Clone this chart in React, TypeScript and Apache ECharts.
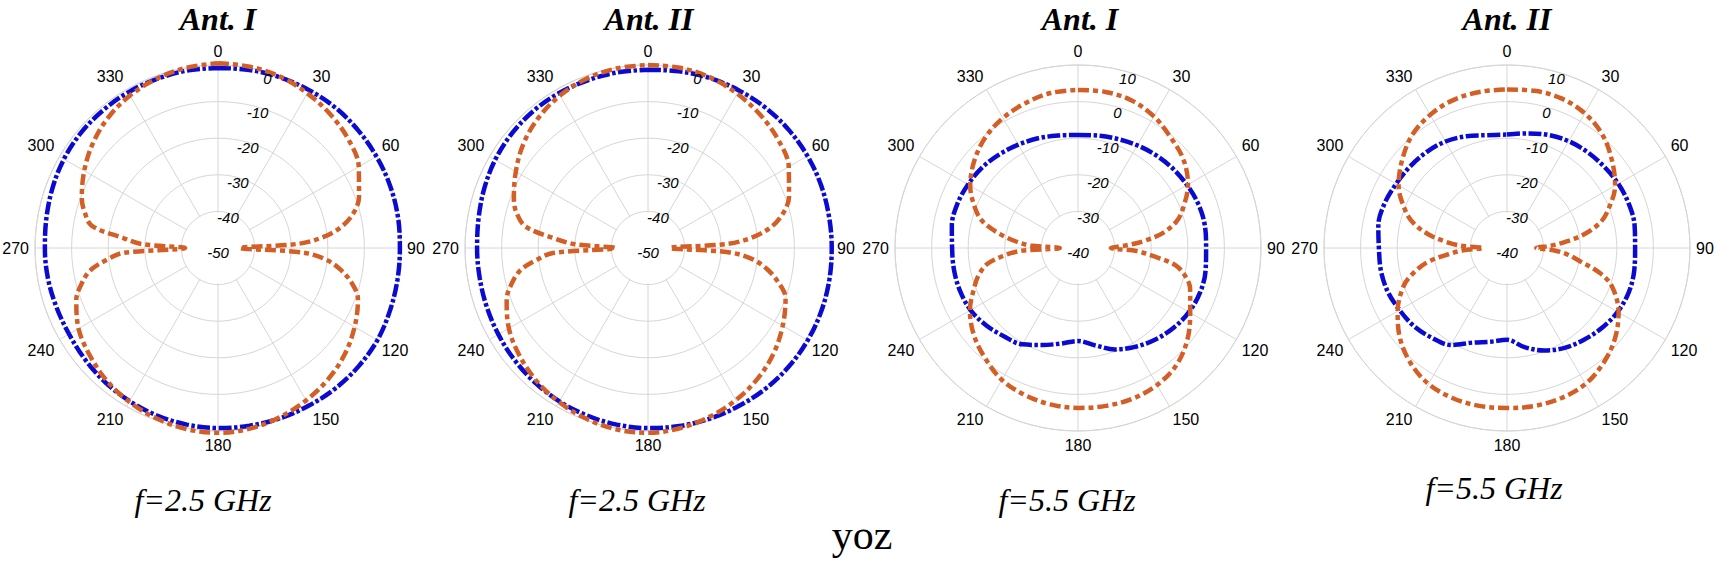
import React, { useEffect, useRef } from "react";
import * as echarts from "echarts";

// ---------------- data ----------------
const ANGLES_BLUE = [0, 10, 20, 30, 40, 50, 60, 70, 80, 90, 100, 110, 120, 130, 140, 150, 160, 170, 180, 190, 200, 210, 220, 230, 240, 250, 260, 270, 280, 290, 300, 310, 320, 330, 340, 350, 360];
const ANGLES_ORANGE = [0, 10, 20, 30, 40, 50, 60, 70, 75, 80, 84, 87, 90, 93, 96, 100, 105, 110, 120, 130, 140, 150, 160, 170, 180, 190, 200, 210, 220, 230, 240, 250, 255, 260, 264, 267, 270, 273, 276, 280, 285, 290, 300, 310, 320, 330, 340, 350, 360];

// Ant. I, f = 2.5 GHz
const P1_BLUE = [-0.8, -0.6, -0.4, -0.2, 0, 0, 0, 0, -0.1, -0.3, -0.2, 0, 0.3, 0.2, 0, -0.3, -0.5, -0.7, -0.8, -1.0, -1.3, -1.7, -2.1, -2.6, -3.0, -3.0, -2.8, -2.7, -2.4, -1.9, -1.4, -1.1, -1.0, -0.9, -0.9, -0.8, -0.8];
const P1_ORANGE = [0.5, 0.3, -0.2, -1.2, -2.3, -3.6, -5.6, -9.0, -11.4, -15.5, -21, -28, -44, -27, -20.5, -16, -12, -9.3, -6.9, -4.8, -3.2, -1.9, -0.8, 0.1, 0.5, 0.2, -0.5, -1.5, -2.7, -4.3, -6.0, -8.8, -11.3, -14.5, -19.5, -24, -41, -29, -24, -15, -12.3, -10.4, -7.8, -5.4, -3.4, -1.9, -0.8, 0, 0.5];

// Ant. II, f = 2.5 GHz
const P2_BLUE = [-1.3, -1.0, -0.6, -0.3, 0, 0.2, 0.3, 0.3, 0.2, 0.2, 0.3, 0.4, 0.4, 0.3, 0.1, -0.2, -0.4, -0.6, -0.8, -1.0, -1.3, -1.6, -2.0, -2.4, -2.8, -3.1, -3.3, -3.3, -3.0, -2.4, -1.8, -1.4, -1.2, -1.2, -1.3, -1.3, -1.3];
const P2_ORANGE = [0.0, 0.0, -0.4, -1.3, -2.4, -3.7, -5.6, -9.0, -11.5, -15.5, -21, -28, -44, -28, -21.5, -17, -13, -10, -7.5, -5.2, -3.4, -2.0, -0.9, 0.0, 0.5, 0.3, -0.4, -1.4, -2.6, -4.2, -6.1, -8.9, -11.3, -14.5, -19.5, -24, -41, -30, -24, -16, -12.8, -11, -8.3, -5.6, -3.5, -1.9, -0.8, -0.2, 0.0];

// Ant. I, f = 5.5 GHz
const P3_BLUE = [-9.1, -8.8, -8.3, -7.6, -6.9, -6.2, -5.6, -5.0, -4.8, -5.0, -4.6, -4.5, -5.0, -6.0, -7.3, -8.8, -10.5, -13.0, -14.6, -13.5, -11.8, -9.6, -8.5, -7.2, -6.1, -5.7, -5.6, -5.6, -5.0, -4.9, -5.3, -5.8, -6.6, -7.4, -8.1, -8.8, -9.1];
const P3_ORANGE = [3.2, 3.3, 2.9, 1.5, -0.6, -2.4, -5.3, -9.6, -12.2, -16.5, -22, -27, -31, -24, -19.5, -13, -9.5, -7.4, -4.6, -1.0, 1.8, 3.2, 3.8, 3.8, 3.7, 3.4, 2.7, 1.6, -0.6, -2.9, -5.9, -10, -12, -14.8, -19.5, -24, -35, -27, -23, -18.5, -13.4, -10.4, -6.0, -3.0, -0.6, 1.0, 2.1, 3.0, 3.2];

// Ant. II, f = 5.5 GHz
const P4_BLUE = [-9.0, -8.2, -7.1, -6.3, -5.8, -5.4, -4.9, -4.6, -4.6, -5.0, -4.7, -4.6, -5.1, -6.1, -7.3, -8.5, -10.2, -12.5, -14.9, -14.0, -12.5, -9.4, -8.0, -6.8, -6.1, -5.3, -5.0, -5.0, -4.3, -4.4, -5.0, -5.4, -5.8, -6.4, -7.5, -8.7, -9.0];
const P4_ORANGE = [3.3, 3.6, 3.5, 2.5, 0.5, -2.6, -5.9, -10.8, -13.8, -18.7, -24, -28, -32, -27, -23.5, -20, -13.8, -9.5, -4.8, -1.5, 1.0, 2.9, 3.6, 3.8, 3.7, 3.8, 3.6, 2.9, 1.0, -1.8, -5.5, -10, -13.5, -18, -24, -28, -33.5, -27, -23, -18, -13.5, -10.5, -5.8, -2.6, 0.3, 2.0, 3.0, 3.3, 3.3];

const BLUE_SERIES = [P1_BLUE, P2_BLUE, P3_BLUE, P4_BLUE];
const ORANGE_SERIES = [P1_ORANGE, P2_ORANGE, P3_ORANGE, P4_ORANGE];

const TITLES = ["Ant. I", "Ant. II", "Ant. I", "Ant. II"];
const FREQ_LABELS = ["f=2.5 GHz", "f=2.5 GHz", "f=5.5 GHz", "f=5.5 GHz"];
const BOTTOM_LABEL = "yoz";
const RADIAL_MIN = [-50, -50, -40, -40];
const RADIAL_MAX = [0, 0, 10, 10];
const RADIAL_TICKS = [
  [-50, -40, -30, -20, -10, 0],
  [-50, -40, -30, -20, -10, 0],
  [-40, -30, -20, -10, 0, 10],
  [-40, -30, -20, -10, 0, 10],
];

// ---------------- layout ----------------
const W = 1722;
const H = 570;
const CX = [218, 648, 1078, 1507];
const CY = 248;
const R = 183;
const HEADROOM = 10; // dB of extra room in the (invisible) data polar so curves are never clipped
const TITLE_X = [218, 649, 1080, 1507];
const FREQ_X = [203, 637, 1067, 1494];
const FREQ_Y = [500, 500, 500, 488];

const BLUE = "#0a0ad0";
const ORANGE = "#d35f27";
const GRID = "#d6d6d6";

function buildOption() {
  const n = CX.length;
  // visible grids (0..n-1) and invisible data polars (n..2n-1) with the same dB scale
  const polar: any[] = [];
  const angleAxis: any[] = [];
  const radiusAxis: any[] = [];
  CX.forEach((x, i) => {
    polar.push({ center: [x, CY], radius: R });
    angleAxis.push({
      polarIndex: i,
      type: "value",
      min: 0,
      max: 360,
      interval: 30,
      startAngle: 90,
      clockwise: true,
      axisLine: { show: true, lineStyle: { color: GRID, width: 1 } },
      axisTick: { show: false },
      axisLabel: {
        show: true,
        color: "#000",
        fontSize: 16,
        fontFamily: "Liberation Sans, Arial, sans-serif",
        margin: 6,
        formatter: (v: number) => (v === 360 ? "" : String(v)),
      },
      splitLine: { show: true, lineStyle: { color: GRID, width: 1 } },
    });
    radiusAxis.push({
      polarIndex: i,
      type: "value",
      min: RADIAL_MIN[i],
      max: RADIAL_MAX[i],
      interval: 10,
      axisLine: { show: false },
      axisTick: { show: false },
      axisLabel: { show: false },
      splitLine: { show: true, lineStyle: { color: GRID, width: 1 } },
    });
  });
  CX.forEach((x, i) => {
    const span = RADIAL_MAX[i] - RADIAL_MIN[i];
    polar.push({ center: [x, CY], radius: (R * (span + HEADROOM)) / span });
    angleAxis.push({
      polarIndex: n + i,
      type: "value",
      min: 0,
      max: 360,
      startAngle: 90,
      clockwise: true,
      axisLine: { show: false },
      axisTick: { show: false },
      axisLabel: { show: false },
      splitLine: { show: false },
    });
    radiusAxis.push({
      polarIndex: n + i,
      type: "value",
      min: RADIAL_MIN[i],
      max: RADIAL_MAX[i] + HEADROOM,
      interval: 10,
      axisLine: { show: false },
      axisTick: { show: false },
      axisLabel: { show: false },
      splitLine: { show: false },
    });
  });

  const series: any[] = [];
  CX.forEach((_, i) => {
    series.push({
      type: "line",
      coordinateSystem: "polar",
      polarIndex: n + i,
      data: ANGLES_BLUE.map((a, k) => [BLUE_SERIES[i][k], a]),
      showSymbol: false,
      smooth: 0.35,
      z: 3,
      lineStyle: { color: BLUE, width: 4.5, type: [13, 2.5, 3.5, 2.5], cap: "butt" },
    });
    series.push({
      type: "line",
      coordinateSystem: "polar",
      polarIndex: n + i,
      data: ANGLES_ORANGE.map((a, k) => [ORANGE_SERIES[i][k], a]),
      showSymbol: false,
      smooth: 0.35,
      z: 4,
      lineStyle: { color: ORANGE, width: 4.5, type: [11, 4, 5, 4], cap: "butt" },
    });
  });

  const graphic: any[] = [];
  CX.forEach((cx, i) => {
    const span = RADIAL_MAX[i] - RADIAL_MIN[i];
    const innerR = (10 / span) * R;
    // blank the spokes inside the innermost ring
    graphic.push({
      type: "circle",
      shape: { cx, cy: CY, r: innerR - 1 },
      style: { fill: "#fff" },
      z: 1,
      silent: true,
    });
    RADIAL_TICKS[i].forEach((v) => {
      const r = ((v - RADIAL_MIN[i]) / span) * R;
      graphic.push({
        type: "text",
        x: cx + r * 0.27,
        y: CY - r * 0.95 + 4,
        z: 10,
        style: {
          text: String(v),
          fontSize: 15,
          fontStyle: "italic",
          fontFamily: "Liberation Sans, Arial, sans-serif",
          fill: "#000",
          align: "center",
          verticalAlign: "middle",
        },
      });
    });
    graphic.push({
      type: "text",
      x: TITLE_X[i],
      y: 19,
      style: {
        text: TITLES[i],
        fontSize: 32,
        fontStyle: "italic",
        fontWeight: "bold",
        fontFamily: "Liberation Serif, Times New Roman, serif",
        fill: "#000",
        align: "center",
        verticalAlign: "middle",
      },
    });
    graphic.push({
      type: "text",
      x: FREQ_X[i],
      y: FREQ_Y[i],
      style: {
        text: FREQ_LABELS[i],
        fontSize: 32,
        fontStyle: "italic",
        fontFamily: "Liberation Serif, Times New Roman, serif",
        fill: "#000",
        align: "center",
        verticalAlign: "middle",
      },
    });
  });
  graphic.push({
    type: "text",
    x: 862,
    y: 535,
    style: {
      text: BOTTOM_LABEL,
      fontSize: 42,
      fontFamily: "Liberation Serif, Times New Roman, serif",
      fill: "#000",
      align: "center",
      verticalAlign: "middle",
    },
  });

  return {
    animation: false,
    backgroundColor: "#fff",
    polar,
    angleAxis,
    radiusAxis,
    series,
    graphic,
  };
}

export default function App() {
  const ref = useRef<HTMLDivElement>(null);
  useEffect(() => {
    if (!ref.current) return;
    const chart = echarts.init(ref.current, undefined, { renderer: "svg" });
    chart.setOption(buildOption() as any);
    return () => chart.dispose();
  }, []);
  return (
    <div
      ref={ref}
      style={{ position: "absolute", left: 0, top: 0, width: W, height: H, background: "#fff" }}
    />
  );
}
